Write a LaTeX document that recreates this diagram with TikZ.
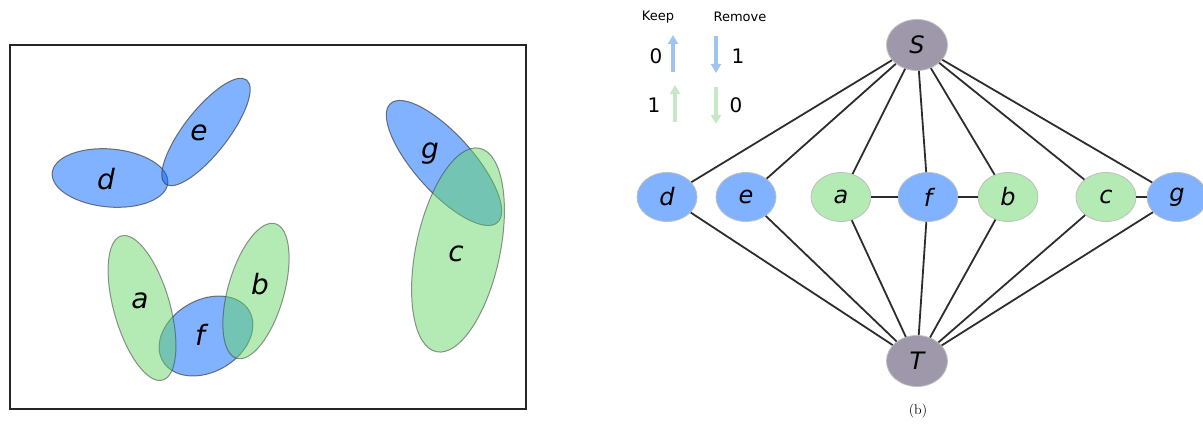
\documentclass[tikz,border=0pt]{standalone}
\usepackage{fontspec}
\setsansfont{DejaVu Sans}
\usetikzlibrary{shapes.geometric,arrows.meta}
\definecolor{nblue}{RGB}{128,178,255}
\definecolor{ngreen}{RGB}{180,234,180}
\definecolor{ngray}{RGB}{158,152,170}
\definecolor{bbase}{RGB}{1,101,255}
\definecolor{gbase}{RGB}{105,215,105}
\definecolor{edgec}{RGB}{45,45,45}
\definecolor{abl}{RGB}{160,196,240}
\definecolor{agr}{RGB}{198,232,198}
\tikzset{
  setb/.style={fill=bbase,fill opacity=0.5,draw=black!75,draw opacity=0.7,line width=1pt},
  setg/.style={fill=gbase,fill opacity=0.5,draw=black!75,draw opacity=0.55,line width=1pt},
  setlbl/.style={font=\sffamily\itshape\fontsize{28}{28}\selectfont,text=black},
  gnode/.style={ellipse,minimum width=60pt,minimum height=49pt,inner sep=0pt,draw=black!25,line width=0.8pt,font=\sffamily\itshape\fontsize{24}{24}\selectfont},
  bnode/.style={gnode,fill=nblue},
  grnode/.style={gnode,fill=ngreen},
  stnode/.style={gnode,fill=ngray,minimum width=61pt,minimum height=51pt},
  edge/.style={draw=edgec,line width=1.8pt},
  legtxt/.style={font=\sffamily\fontsize{13}{13}\selectfont},
  legnum/.style={font=\sffamily\fontsize{20}{20}\selectfont},
  larrow/.style={line width=4pt,-{Triangle[length=9pt,width=10pt]}}
}
\begin{document}
\begin{tikzpicture}[x=1pt,y=-1pt]
\useasboundingbox (0,0) rectangle (1203,425);
% ---- left panel
\draw[line width=2pt,draw=black!85] (10,45) rectangle (526,409);
\draw[setb,rotate around={-5:(110,178)}] (110,178) ellipse [x radius=58pt,y radius=29pt];
\draw[setb,rotate around={52:(206,132)}] (206,132) ellipse [x radius=66pt,y radius=22pt];
\draw[setb,rotate around={-48:(444,163)}] (444,163) ellipse [x radius=80pt,y radius=29pt];
\draw[setg,rotate around={-12:(458,250)}] (458,250) ellipse [x radius=42pt,y radius=104pt];
\draw[setb,rotate around={30:(206,336)}] (206,336) ellipse [x radius=50pt,y radius=36pt];
\draw[setg,rotate around={16:(142,308)}] (142,308) ellipse [x radius=28pt,y radius=75pt];
\draw[setg,rotate around={-16:(256,291)}] (256,291) ellipse [x radius=28pt,y radius=70pt];
\node[setlbl] (ld) at (106,179) {d};
\node[setlbl] (le) at (199,133) {e};
\node[setlbl] (lg) at (430,154) {g};
\node[setlbl] (lc) at (456,254) {c};
\node[setlbl] (la) at (140,301) {a};
\node[setlbl] (lb) at (260,284) {b};
\node[setlbl] (lf) at (200,335) {f};
% ---- legend
\node[legtxt] (keep) at (658,17) {Keep};
\node[legtxt] (remove) at (740,17) {Remove};
\node[legnum] (k0) at (656,56) {0};
\node[legnum] (r1) at (738,56) {1};
\node[legnum] (k1) at (654,105) {1};
\node[legnum] (r0) at (736,105) {0};
\coordinate (ku1) at (673,72); \coordinate (ku2) at (673,35);
\coordinate (rd1) at (716,36); \coordinate (rd2) at (716,73);
\coordinate (ku3) at (675,122); \coordinate (ku4) at (675,85);
\coordinate (rd3) at (716,87); \coordinate (rd4) at (716,124);
\draw[larrow,abl] (ku1) -- (ku2);
\draw[larrow,abl] (rd1) -- (rd2);
\draw[larrow,agr] (ku3) -- (ku4);
\draw[larrow,agr] (rd3) -- (rd4);
% ---- graph
\node[stnode] (S) at (917,45) {S};
\node[stnode] (T) at (917,361) {T};
\node[bnode] (d) at (667,197) {d};
\node[bnode] (e) at (746,197) {e};
\node[grnode] (a) at (841,197) {a};
\node[bnode] (f) at (928,197) {f};
\node[grnode] (b) at (1008,197) {b};
\node[grnode] (c) at (1106,197) {c};
\node[bnode] (g) at (1177,197) {g};
\foreach \n in {d,e,a,f,b,c,g} {
  \draw[edge] (S) -- (\n);
  \draw[edge] (T) -- (\n);
}
\draw[edge] (a) -- (f);
\draw[edge] (f) -- (b);
\draw[edge] (c) -- (g);
\node[font=\fontsize{14}{14}\selectfont] (cap) at (918,411) {(b)};
\end{tikzpicture}
\end{document}
